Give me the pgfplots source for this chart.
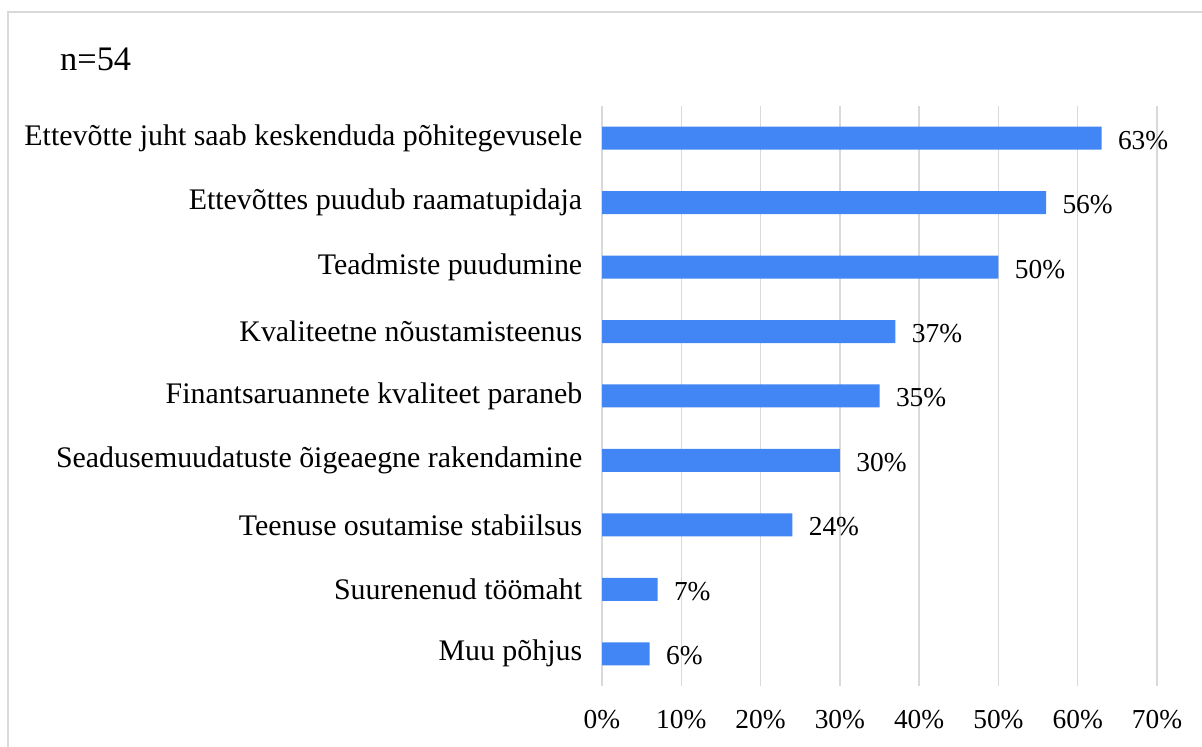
\documentclass[border=0pt]{standalone}
\usepackage{fontspec}
\setmainfont{Liberation Serif}
\usepackage{pgfplots}
\pgfplotsset{compat=1.18}
\definecolor{barblue}{HTML}{4285F4}
\definecolor{gridgray}{HTML}{D9D9D9}
\begin{document}
\begin{tikzpicture}[x=1bp,y=1bp]
\path[use as bounding box] (0,0) rectangle (1202,747);
\draw[color=gridgray, line width=1.5bp] (8,0) -- (8,735) -- (1202,735);
\node[anchor=base west, inner sep=0pt, font=\fontsize{34.5}{34.5}\selectfont] at (60,676) {n=54};
\begin{axis}[at={(602bp,61bp)}, anchor=south west, scale only axis,
  width=555bp, height=580bp,
  xmin=0, xmax=70, ymin=-0.5, ymax=8.5,
  xbar, bar width=23bp,
  ytick={0,...,8},
  yticklabels={Muu põhjus, Suurenenud töömaht, Teenuse osutamise stabiilsus, Seadusemuudatuste õigeaegne rakendamine, Finantsaruannete kvaliteet paraneb, Kvaliteetne nõustamisteenus, Teadmiste puudumine, Ettevõttes puudub raamatupidaja, {Ettevõtte juht saab keskenduda põhitegevusele\hspace{0.25em}}},
  xtick={0,10,...,70},
  xticklabel={\pgfmathprintnumber{\tick}\%},
  /pgf/number format/assume math mode=true,
  xticklabel style={font=\fontsize{27.5}{27.5}\selectfont, yshift=-21bp},
  yticklabel style={font=\fontsize{30}{30}\selectfont, xshift=-12bp},
  xmajorgrids, major grid style={color=gridgray, line width=1.5bp},
  axis line style={draw=none}, tick style={draw=none},
  nodes near coords={\pgfmathprintnumber{\pgfplotspointmeta}\%},
  nodes near coords style={font=\fontsize{27.5}{27.5}\selectfont, anchor=west, xshift=13bp, yshift=-2bp, text=black},
]
\addplot[fill=barblue, draw=none] coordinates {(6,0) (7,1) (24,2) (30,3) (35,4) (37,5) (50,6) (56,7) (63,8)};
\end{axis}
\end{tikzpicture}
\end{document}
